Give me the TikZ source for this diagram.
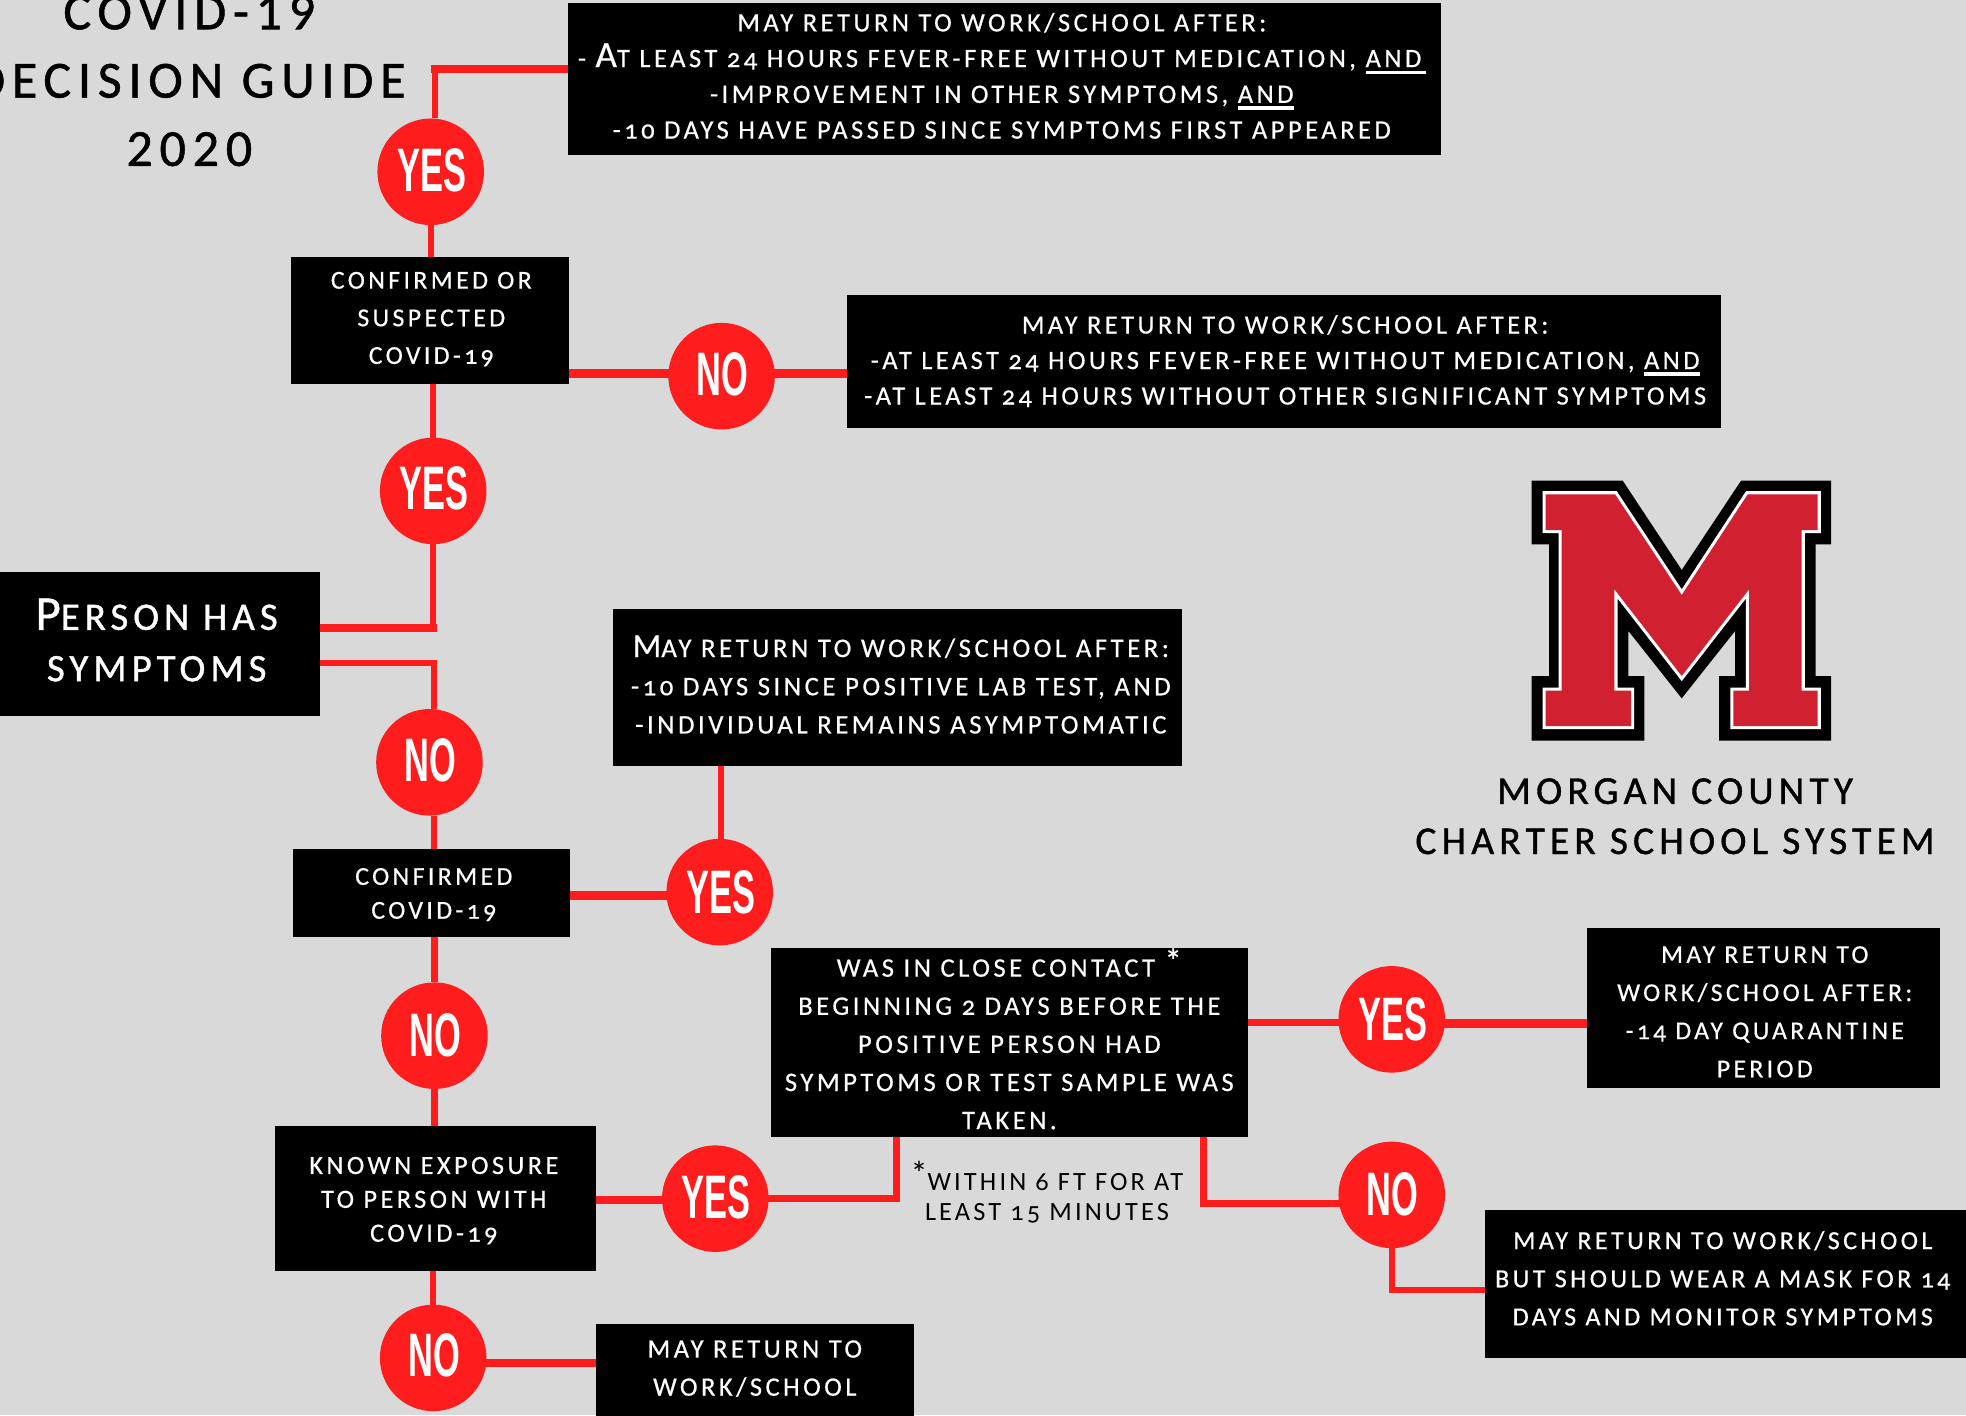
\documentclass[tikz,border=0pt]{standalone}
\usepackage{fontspec}
\usepackage{graphicx}
\usetikzlibrary{backgrounds}
\newfontfamily\basefont[LetterSpace=13,Numbers=OldStyle,FakeBold=0.5]{Carlito}
\newfontfamily\headfont[LetterSpace=13,Numbers=Lining,FakeBold=1]{Carlito}
\newfontfamily\thinfont[LetterSpace=12,Numbers=OldStyle]{Carlito}
\newfontfamily\ansfont{Liberation Sans Bold}
\definecolor{pagegrey}{HTML}{D9D9D9}
\definecolor{linkred}{HTML}{FF1C1C}
\definecolor{logored}{HTML}{D12030}
\newsavebox\ulbox
\newcommand\myul[1]{\sbox\ulbox{#1}\rlap{\rule[-5.5pt]{\wd\ulbox}{2.8pt}}\usebox\ulbox}
\newcommand\bc[1]{\scalebox{1.25}{#1}}
\newcommand\ans[2][2pt]{\hspace{1.5pt}\raisebox{#1}{\scalebox{0.56}[1]{\ansfont\fontsize{49}{49}\selectfont #2}}}
\newcommand\logopts{(245,92) -- (518,92) -- (695,360) -- (873,92) -- (1143,92) -- (1143,283) -- (1097,283) -- (1097,678) -- (1143,678) -- (1143,872) -- (807,872) -- (807,678) -- (855,678) -- (855,543) -- (695,745) -- (535,543) -- (535,678) -- (583,678) -- (583,872) -- (245,872) -- (245,678) -- (297,678) -- (297,283) -- (245,283) -- cycle}
\newcommand\redpts{(287,133) -- (495,133) -- (695,435) -- (893,133) -- (1103,133) -- (1103,240) -- (1055,240) -- (1055,722) -- (1103,722) -- (1103,828) -- (850,828) -- (850,722) -- (897,722) -- (897,418) -- (695,678) -- (493,418) -- (493,722) -- (543,722) -- (543,828) -- (287,828) -- (287,722) -- (335,722) -- (335,240) -- (287,240) -- cycle}
\tikzset{
  x=1pt,y=-1pt,
  bx/.style={fill=black,inner sep=0pt,outer sep=0pt},
  tx/.style 2 args={text=white,align=center,inner sep=0pt,outer sep=0pt,font=\basefont\fontsize{#1}{#2}\selectfont},
  dot/.style={circle,fill=linkred,text=white,inner sep=0pt,outer sep=0pt,minimum size=85pt},
  lnk/.style={draw=linkred,line width=#1,line join=miter},
  lnk/.default=5pt,
  blacktext/.style={text=black,align=center,inner sep=0pt}
}
\begin{document}
\begin{tikzpicture}
\useasboundingbox (0,0) rectangle (1568,1128.6);
\clip (0,0) rectangle (1568,1128.6);
% boxes
\node[bx,minimum width=696pt,minimum height=122pt] (boxa) at (801,63) {};
\node[bx,minimum width=222pt,minimum height=101pt] (boxb) at (343,255.5) {};
\node[bx,minimum width=697pt,minimum height=106pt] (boxc) at (1024,288) {};
\node[bx,minimum width=255pt,minimum height=115pt] (boxd) at (127.5,513.5) {};
\node[bx,minimum width=454pt,minimum height=125pt] (boxe) at (716,548.5) {};
\node[bx,minimum width=221pt,minimum height=70pt] (boxf) at (344.5,712) {};
\node[bx,minimum width=380pt,minimum height=151pt] (boxg) at (805,831.5) {};
\node[bx,minimum width=281pt,minimum height=128pt] (boxh) at (1406.5,804) {};
\node[bx,minimum width=256pt,minimum height=116pt] (boxi) at (347,956) {};
\node[bx,minimum width=254pt,minimum height=73pt] (boxj) at (602,1092.5) {};
\node[bx,minimum width=384pt,minimum height=118pt] (boxk) at (1376,1024) {};
% box texts
\node[tx={21.2}{28.5}] (ta) at ([xshift=-2pt,yshift=2.5pt]boxa.center) {MAY RETURN TO WORK/SCHOOL AFTER:\\- \scalebox{1.4}{A}T LEAST 24 HOURS FEVER-FREE WITHOUT MEDICATION, \myul{AND\,}\\-IMPROVEMENT IN OTHER SYMPTOMS, \myul{AND}\\-10 DAYS HAVE PASSED SINCE SYMPTOMS FIRST APPEARED};
\node[tx={20.6}{30}] (tb) at ([xshift=1pt,yshift=1pt]boxb.center) {CONFIRMED OR\\SUSPECTED\\COVID-19};
\node[tx={21.1}{28.3}] (tc) at ([xshift=1pt]boxc.center) {MAY RETURN TO WORK/SCHOOL AFTER:\\-AT LEAST 24 HOURS FEVER-FREE WITHOUT MEDICATION, \myul{AND}\\-AT LEAST 24 HOURS WITHOUT OTHER SIGNIFICANT SYMPTOMS};
\node[tx={31}{41},font=\headfont\fontsize{31}{41}\selectfont] (td) at ([xshift=-2.5pt,yshift=3pt]boxd.center) {\bc{P}ERSON HAS\\SYMPTOMS};
\node[tx={21.4}{30.5}] (te) at ([xshift=2.5pt,yshift=2.5pt]boxe.center) {\bc{M}AY RETURN TO WORK/SCHOOL AFTER:\\-10 DAYS SINCE POSITIVE LAB TEST, AND\\-INDIVIDUAL REMAINS ASYMPTOMATIC};
\node[tx={20.6}{27}] (tf) at ([xshift=1.5pt,yshift=-1.5pt]boxf.center) {CONFIRMED\\COVID-19};
\node[tx={21.3}{30.4}] (tg) at ([yshift=3pt]boxg.center) {WAS IN CLOSE CONTACT \raisebox{3pt}{\scalebox{1.3}{*}}\\BEGINNING 2 DAYS BEFORE THE\\POSITIVE PERSON HAD\\SYMPTOMS OR TEST SAMPLE WAS\\TAKEN.};
\node[tx={20.5}{30.4}] (th) at ([xshift=1pt,yshift=-3pt]boxh.center) {MAY RETURN TO\\WORK/SCHOOL AFTER:\\-14 DAY QUARANTINE\\PERIOD};
\node[tx={21}{27}] (ti) at ([xshift=-1pt,yshift=-1.5pt]boxi.center) {KNOWN EXPOSURE\\TO PERSON WITH\\COVID-19};
\node[tx={21.2}{30.4}] (tj) at ([yshift=1pt]boxj.center) {MAY RETURN TO\\WORK/SCHOOL};
\node[tx={20.8}{30.4}] (tk) at ([xshift=-2pt,yshift=4.5pt]boxk.center) {MAY RETURN TO WORK/SCHOOL\\BUT SHOULD WEAR A MASK FOR 14\\DAYS AND MONITOR SYMPTOMS};
% answer circles
\node[dot] (yesa) at (343.5,137) {\ans[3pt]{YES}};
\node[dot] (noa) at (575.5,300) {\ans[4pt]{NO}};
\node[dot] (yesb) at (345.5,391.5) {\ans[4pt]{YES}};
\node[dot] (nob) at (342.5,608) {\ans[3pt]{NO}};
\node[dot] (yesc) at (574,711.5) {\ans[-1pt]{YES}};
\node[dot] (noc) at (346.5,826) {\ans[-1pt]{NO}};
\node[dot] (yesd) at (1110,813) {\ans[0pt]{YES}};
\node[dot] (yese) at (570.5,956) {\ans{YES}};
\node[dot] (nod) at (1110,953) {\ans{NO}};
\node[dot] (noe) at (345.5,1083) {\ans[4pt]{NO}};
% free corners
\coordinate (ca) at (347,55);
\coordinate (cb) at (500,298);
\coordinate (cc) at (345.5,501);
\coordinate (cd) at (346,529);
\coordinate (ce) at (500,714);
\coordinate (cf) at (715,956);
\coordinate (cg) at (960,960);
\coordinate (ch) at (1040,815.5);
\coordinate (ci) at (1110,1029);
\coordinate (cj) at (420,1087);
\coordinate (ck) at (500,957);
\coordinate (cl) at (1200,816);
\coordinate (cm) at (575,640);
\begin{pgfonlayer}{background}
\fill[pagegrey] (0,0) rectangle (1568,1128.6);
\draw[lnk] (yesa.north -| ca) -- (ca);
\draw[lnk=7pt,line cap=rect] (ca) -- (boxa.west |- ca);
\draw[lnk] (yesa.south) -- (boxb.north -| yesa);
\draw[lnk=7pt] (boxb.east |- cb) -- (noa.center |- cb) -- (boxc.west |- cb);
\draw[lnk] (yesb.south) -- (boxb.south -| yesb);
\draw[lnk] (yesb.south) -- (cc);
\draw[lnk=6pt,line cap=rect] (cc) -- (boxd.east |- cc);
\draw[lnk=5pt,line cap=rect] (cd) -- (boxd.east |- cd);
\draw[lnk] (cd) -- (nob.north -| cd);
\draw[lnk] (nob.south -| cd) -- (boxf.north -| cd);
\draw[lnk=7pt] (boxf.east |- ce) -- (yesc.center |- ce);
\draw[lnk] (yesc.north -| cm) -- (boxe.south -| cm);
\draw[lnk] (boxf.south -| noc) -- (noc.north);
\draw[lnk] (noc.south) -- (boxi.north -| noc);
\draw[lnk] (boxi.south -| noe) -- (noe.north);
\draw[lnk=6pt] (noe.center |- cj) -- (boxj.west |- cj);
\draw[lnk=6pt] (boxi.east |- ck) -- (yese.center |- ck);
\draw[lnk=6pt] (yese.center) -- (cf) -- (boxg.south -| cf);
\draw[lnk=6pt] (boxg.south -| cg) -- (cg) -- (nod.center |- cg);
\draw[lnk=6pt] (boxg.east |- ch) -- (yesd.center |- ch);
\draw[lnk=7pt] (yesd.center |- cl) -- (boxh.west |- cl);
\draw[lnk=5pt] (nod.south) -- (ci) -- (boxk.west |- ci);
\end{pgfonlayer}
% title
\node[blacktext,font=\headfont\fontsize{41.5}{54.5}\selectfont] (title) at (151,64.5) {COVID-19\\DECISION GUIDE\\2020};
% footnote
\node[blacktext,font=\thinfont\fontsize{21}{24}\selectfont] (foot) at (835,950.5) {\raisebox{4pt}{\scalebox{1.3}{*}}WITHIN 6 FT FOR AT\\LEAST 15 MINUTES};
% school name
\node[blacktext,font=\headfont\fontsize{31.5}{40}\selectfont] (school) at (1336,651) {MORGAN COUNTY\\CHARTER SCHOOL SYSTEM};
% logo
\begin{scope}[shift={(1156.5,358.9)},x=0.26586pt,y=-0.26586pt]
\fill[black] \logopts;
\draw[white,line width=5pt,miter limit=6,fill=white] \redpts;
\fill[logored] \redpts;
\end{scope}
\end{tikzpicture}
\end{document}
